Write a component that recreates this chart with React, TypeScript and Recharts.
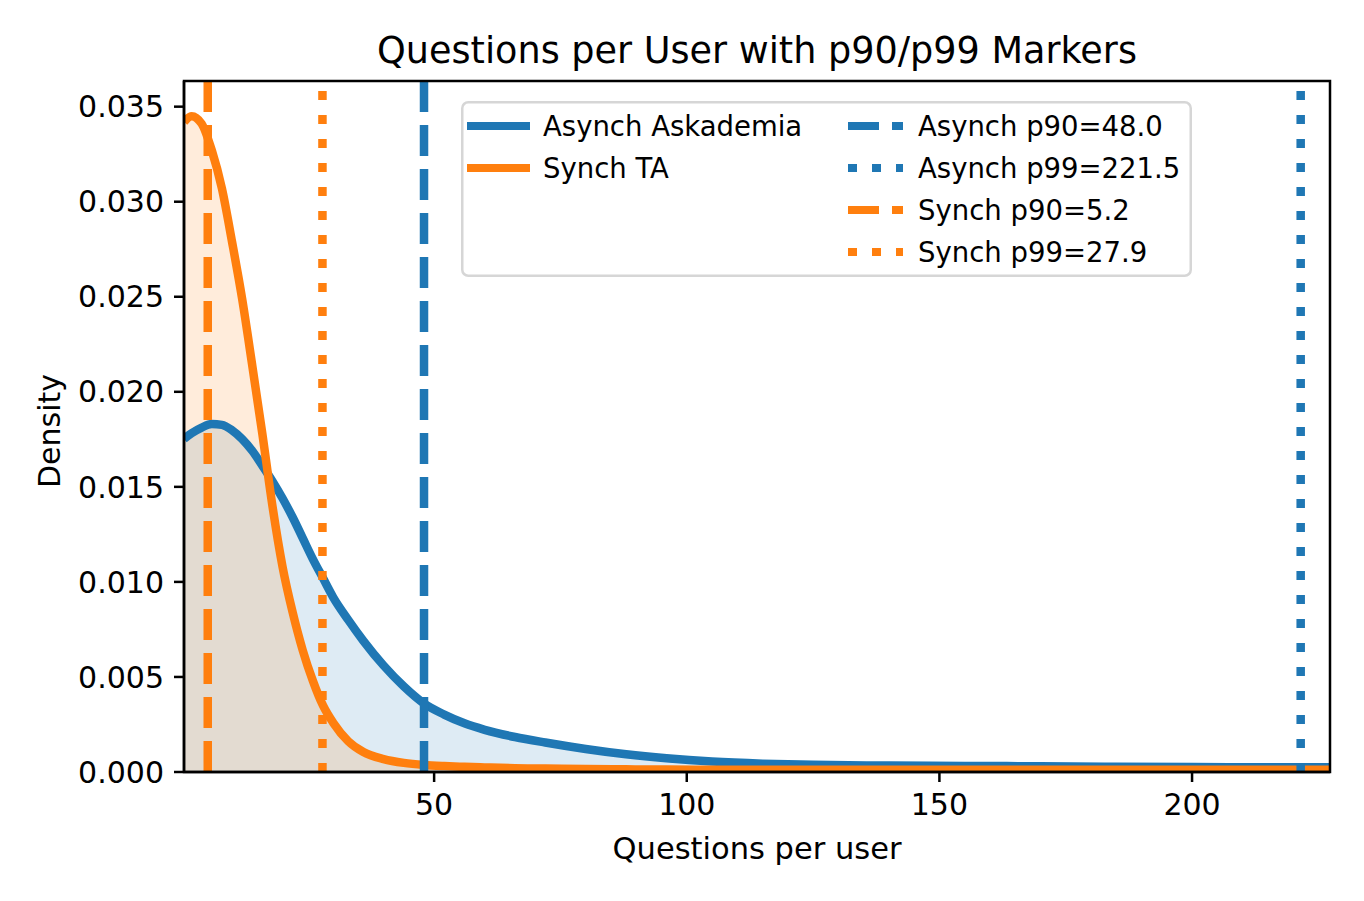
import * as React from 'react';
import {
	ComposedChart,
	Area,
	Line,
	XAxis,
	YAxis,
	ReferenceLine,
	ReferenceArea,
	Legend,
} from 'recharts';

// KDE grid (questions per user) and density estimates for each group
const questions = [
	0.5, 2, 4, 6, 8, 10, 12, 14, 16, 18, 20, 22, 24, 26, 28, 30, 33, 36, 40, 44,
	48, 52, 56, 60, 66, 72, 80, 88, 96, 105, 115, 125, 140, 155, 170, 185, 200,
	215, 227.3,
];
const asynchDensity = [
	0.01752, 0.01782, 0.01812, 0.0183, 0.01826, 0.01798, 0.01752, 0.0169,
	0.01612, 0.0153, 0.0144, 0.0134, 0.0123, 0.0112, 0.0102, 0.0092, 0.008,
	0.0069, 0.0056, 0.0045, 0.0036, 0.00302, 0.00256, 0.00222, 0.00184, 0.00155,
	0.00121, 0.00093, 0.00072, 0.00055, 0.00044, 0.00038, 0.00034, 0.00032,
	0.0003, 0.00027, 0.00026, 0.00025, 0.00025,
];
const synchDensity = [
	0.0342, 0.0345, 0.0341, 0.0327, 0.0307, 0.0279, 0.0249, 0.0214, 0.0178,
	0.014, 0.0108, 0.0084, 0.0064, 0.0048, 0.0035, 0.0026, 0.00162, 0.00105,
	0.00068, 0.00048, 0.00037, 0.00031, 0.00027, 0.00024, 0.0002, 0.00018,
	0.00016, 0.00014, 0.00013, 0.00012, 0.00012, 0.00012, 0.00012, 0.00012,
	0.00012, 0.00012, 0.00012, 0.00012, 0.00012,
];

const asynchP90 = 48.0;
const asynchP99 = 221.5;
const synchP90 = 5.2;
const synchP99 = 27.9;

const xTicks = [50, 100, 150, 200];
const yTicks = [0, 0.005, 0.01, 0.015, 0.02, 0.025, 0.03, 0.035];

const BLUE = '#1f77b4';
const ORANGE = '#ff7f0e';
const FONT = "'DejaVu Sans', sans-serif";
const X_DOMAIN = [0.5, 227.3];
const Y_DOMAIN = [0, 0.03635];
const DASHED = '31 13';
const DOTTED = '9 15';

const data = questions.map((q, i) => ({
	q,
	asynch: asynchDensity[i],
	synch: synchDensity[i],
}));

const legendRows = [
	{ col: 0, row: 0, color: BLUE, dash: undefined, text: 'Asynch Askademia' },
	{ col: 0, row: 1, color: ORANGE, dash: undefined, text: 'Synch TA' },
	{ col: 1, row: 0, color: BLUE, dash: DASHED, text: `Asynch p90=${asynchP90.toFixed(1)}` },
	{ col: 1, row: 1, color: BLUE, dash: DOTTED, text: `Asynch p99=${asynchP99.toFixed(1)}` },
	{ col: 1, row: 2, color: ORANGE, dash: DASHED, text: `Synch p90=${synchP90.toFixed(1)}` },
	{ col: 1, row: 3, color: ORANGE, dash: DOTTED, text: `Synch p99=${synchP99.toFixed(1)}` },
];

function LegendBox() {
	return (
		<svg width={731} height={176} style={{ display: 'block' }}>
			<rect
				x={1.25}
				y={1.25}
				width={728.5}
				height={173.5}
				rx={6}
				fill='#fff'
				stroke='#d6d6d6'
				strokeWidth={2.5}
			/>
			{legendRows.map((r) => {
				const x0 = r.col === 0 ? 10 : 387;
				const cy = 25 + r.row * 42;
				return (
					<g key={r.text}>
						<line
							x1={x0}
							x2={x0 + 55}
							y1={cy}
							y2={cy}
							stroke={r.color}
							strokeWidth={8}
							strokeDasharray={r.dash}
							strokeLinecap={r.dash ? 'butt' : 'square'}
						/>
						<text
							x={x0 + (r.col === 0 ? 72 : 70)}
							y={cy}
							dominantBaseline='central'
							fontFamily={FONT}
							fontSize={27.5}
							fill='#000'
						>
							{r.text}
						</text>
					</g>
				);
			})}
		</svg>
	);
}

export default function App() {
	const tickStyle = { fill: '#000', fontSize: 30, fontFamily: FONT };
	return (
		<div style={{ position: 'absolute', left: 0, top: 0, width: 1364, height: 901, background: '#fff' }}>
			<ComposedChart
				width={1364}
				height={901}
				data={data}
				margin={{ top: 81, right: 34, bottom: 0, left: 0 }}
			>
				<XAxis
					dataKey='q'
					type='number'
					domain={X_DOMAIN}
					allowDataOverflow
					ticks={xTicks}
					height={129}
					tickSize={10}
					tickMargin={12}
					axisLine={{ stroke: '#000', strokeWidth: 2.5 }}
					tickLine={{ stroke: '#000', strokeWidth: 2.5 }}
					tick={tickStyle}
				/>
				<YAxis
					type='number'
					domain={Y_DOMAIN}
					allowDataOverflow
					ticks={yTicks}
					width={184}
					tickSize={10}
					tickMargin={10}
					tickFormatter={(v: number) => v.toFixed(3)}
					axisLine={{ stroke: '#000', strokeWidth: 2.5 }}
					tickLine={{ stroke: '#000', strokeWidth: 2.5 }}
					tick={tickStyle}
				/>
				<Area
					dataKey='asynch'
					type='monotone'
					stroke='none'
					fill={BLUE}
					fillOpacity={0.15}
					isAnimationActive={false}
				/>
				<Area
					dataKey='synch'
					type='monotone'
					stroke='none'
					fill={ORANGE}
					fillOpacity={0.15}
					isAnimationActive={false}
				/>
				<Line
					dataKey='asynch'
					type='monotone'
					stroke={BLUE}
					strokeWidth={8.5}
					dot={false}
					activeDot={false}
					isAnimationActive={false}
				/>
				<Line
					dataKey='synch'
					type='monotone'
					stroke={ORANGE}
					strokeWidth={8.5}
					dot={false}
					activeDot={false}
					isAnimationActive={false}
				/>
				<ReferenceLine x={asynchP90} stroke={BLUE} strokeWidth={8.5} strokeDasharray={DASHED} zIndex={450} />
				<ReferenceLine x={asynchP99} stroke={BLUE} strokeWidth={8.5} strokeDasharray={DOTTED} zIndex={450} />
				<ReferenceLine x={synchP90} stroke={ORANGE} strokeWidth={8.5} strokeDasharray={DASHED} zIndex={450} />
				<ReferenceLine x={synchP99} stroke={ORANGE} strokeWidth={8.5} strokeDasharray={DOTTED} zIndex={450} />
				<ReferenceArea
					x1={X_DOMAIN[0]}
					x2={X_DOMAIN[1]}
					y1={Y_DOMAIN[0]}
					y2={Y_DOMAIN[1]}
					fill='none'
					stroke='#000'
					strokeWidth={2.5}
					zIndex={700}
				/>
				<Legend
					verticalAlign='middle'
					align='center'
					content={() => <LegendBox />}
					wrapperStyle={{ position: 'absolute', left: 461, top: 101, width: 731, height: 176 }}
				/>
			</ComposedChart>
			<svg
				width={1364}
				height={901}
				style={{ position: 'absolute', left: 0, top: 0, pointerEvents: 'none' }}
			>
				<text x={757} y={63} textAnchor='middle' fontFamily={FONT} fontSize={36.6} fill='#000'>
					Questions per User with p90/p99 Markers
				</text>
				<text x={757} y={859} textAnchor='middle' fontFamily={FONT} fontSize={30.5} fill='#000'>
					Questions per user
				</text>
				<text
					transform='translate(60,431) rotate(-90)'
					textAnchor='middle'
					fontFamily={FONT}
					fontSize={30}
					fill='#000'
				>
					Density
				</text>
			</svg>
		</div>
	);
}
